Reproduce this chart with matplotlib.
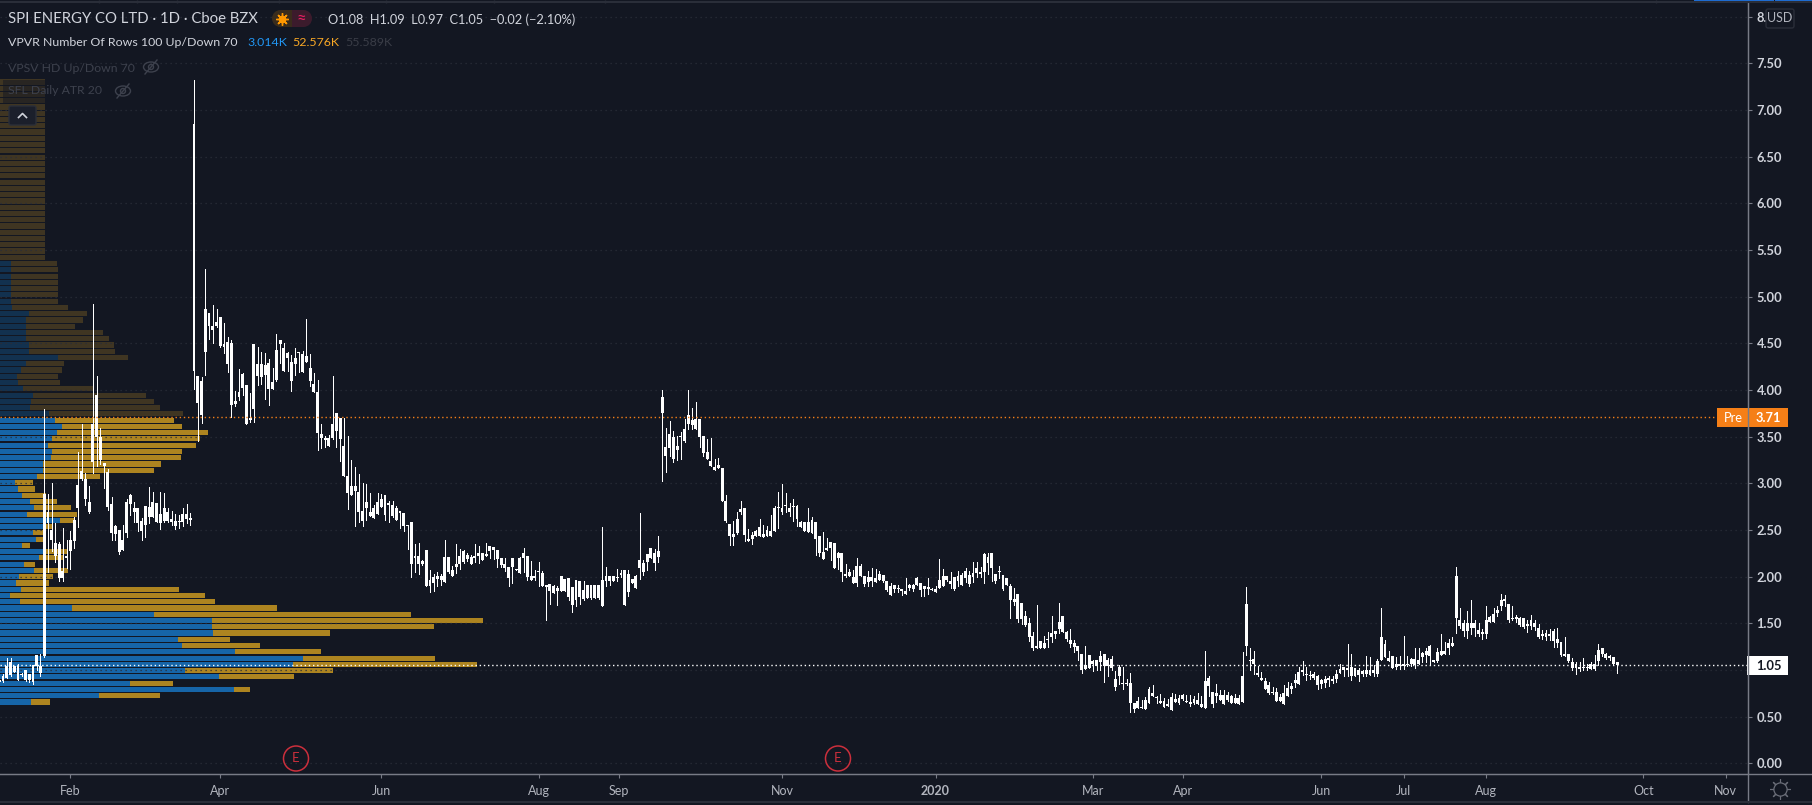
import numpy as np
import matplotlib
matplotlib.use('Agg')
import matplotlib.pyplot as plt
from matplotlib.patches import Rectangle, FancyBboxPatch, Circle, Ellipse

plt.rcParams['font.family'] = ['Lato', 'DejaVu Sans']

# candles, one row per 10 bars
body_tops = [
    .89,.93,1.04,1.09,1.04,1.04,.96,1.00,.96,1.05,
    1.16,1.04,2.88,2.69,2.50,2.36,2.35,2.06,2.22,2.39,
    2.61,2.98,3.13,3.05,2.80,3.63,3.95,3.50,3.22,3.12,
    2.78,2.54,2.50,2.39,2.80,2.87,2.74,2.73,2.60,2.76,
    2.75,2.80,2.79,2.67,2.73,2.69,2.62,2.60,2.60,2.67,
    2.67,2.63,6.85,4.15,4.10,4.87,4.82,4.69,4.73,4.78,
    4.49,4.51,4.50,3.88,3.98,4.17,4.05,3.70,4.49,4.28,
    4.28,4.27,4.29,4.08,4.43,4.53,4.45,4.40,4.30,4.34,
    4.41,4.38,4.36,4.24,4.06,3.98,3.53,3.48,3.49,3.64,
    3.75,3.70,3.40,3.08,2.97,2.97,2.91,2.70,2.80,2.69,
    2.74,2.80,2.83,2.87,2.79,2.77,2.73,2.70,2.68,2.55,
    2.59,2.22,2.22,2.17,2.28,1.96,2.00,2.01,2.01,2.21,
    2.21,2.07,2.14,2.22,2.27,2.23,2.21,2.22,2.25,2.25,
    2.24,2.33,2.32,2.29,2.20,2.13,2.10,2.20,2.08,2.20,
    2.25,2.22,2.01,2.01,2.06,2.04,1.91,1.92,1.90,1.88,
    2.01,1.97,1.99,1.89,1.96,1.95,1.86,1.91,1.91,1.91,
    1.91,1.96,2.01,2.01,2.01,2.00,2.04,2.07,2.03,1.97,
    2.01,2.18,2.15,2.24,2.31,2.25,2.27,3.92,3.39,3.53,
    3.50,3.40,3.51,3.58,3.73,3.68,3.69,3.69,3.51,3.34,
    3.24,3.17,3.20,3.16,2.81,2.56,2.46,2.62,2.72,2.74,
    2.40,2.45,2.49,2.53,2.46,2.50,2.49,2.74,2.75,2.74,
    2.77,2.74,2.76,2.76,2.58,2.58,2.59,2.61,2.58,2.44,
    2.26,2.31,2.37,2.36,2.25,2.25,2.03,2.05,2.00,2.11,
    2.11,2.01,2.00,2.00,1.99,2.03,2.02,1.95,1.90,1.91,
    1.88,1.87,1.85,1.91,1.91,1.99,1.93,1.90,1.89,1.87,
    1.87,1.96,2.01,2.01,1.95,2.00,2.01,2.02,2.06,2.02,
    2.04,2.09,2.05,2.24,2.21,2.25,2.03,2.06,2.02,1.98,
    1.90,1.76,1.81,1.72,1.58,1.50,1.36,1.26,1.31,1.29,
    1.33,1.40,1.42,1.51,1.58,1.41,1.32,1.29,1.26,1.17,
    1.05,1.16,1.10,1.11,1.15,1.17,1.11,1.12,.90,1.03,
    .86,.86,.86,.65,.67,.60,.68,.80,.75,.71,
    .67,.67,.64,.71,.69,.70,.73,.67,.66,.69,
    .68,.64,.88,.91,.76,.75,.73,.73,.73,.72,
    .70,.70,.94,1.71,1.11,1.12,.97,.91,.88,.84,
    .76,.76,.71,.75,.81,.83,.89,.98,1.00,.96,
    .95,.96,.94,.89,.90,.91,.90,.96,1.01,1.03,
    1.02,1.03,1.02,1.00,.99,1.00,1.00,1.00,1.10,1.35,
    1.28,1.13,1.15,1.06,1.06,1.06,1.06,1.12,1.12,1.11,
    1.18,1.20,1.26,1.11,1.19,1.20,1.20,1.29,1.29,2.01,
    1.54,1.50,1.50,1.50,1.50,1.43,1.41,1.54,1.57,1.60,
    1.64,1.75,1.76,1.71,1.56,1.57,1.56,1.56,1.49,1.53,
    1.50,1.45,1.39,1.40,1.39,1.42,1.33,1.30,1.17,1.17,
    1.09,1.06,1.03,1.03,1.03,1.06,1.06,1.21,1.23,1.17,
    1.15,1.14,1.08]
body_bottoms = [
    .87,.88,.91,.95,.98,.89,.95,.89,.89,.87,
    1.04,.97,1.15,2.57,2.39,2.22,1.98,1.99,2.20,2.27,
    2.38,2.73,3.05,2.83,2.69,3.23,3.50,3.25,3.18,2.75,
    2.47,2.46,2.26,2.29,2.47,2.78,2.69,2.57,2.49,2.55,
    2.64,2.64,2.59,2.57,2.60,2.60,2.59,2.54,2.59,2.58,
    2.62,2.61,4.20,3.86,3.73,4.41,4.68,4.64,4.69,4.47,
    4.46,4.28,3.84,3.85,3.92,4.02,3.63,3.68,3.80,4.15,
    4.14,4.16,4.01,4.01,4.11,4.49,4.20,4.34,4.10,4.28,
    4.40,4.19,4.30,4.10,3.98,3.54,3.48,3.46,3.40,3.49,
    3.56,3.47,3.08,2.90,2.87,2.92,2.69,2.60,2.73,2.65,
    2.63,2.67,2.75,2.66,2.77,2.65,2.61,2.68,2.54,2.54,
    2.13,2.20,2.14,2.14,1.90,1.90,1.93,1.97,1.96,1.94,
    2.05,2.01,2.10,2.14,2.16,2.19,2.13,2.20,2.22,2.18,
    2.22,2.27,2.28,2.19,2.12,2.09,1.98,2.10,2.07,2.04,
    2.20,2.00,1.96,1.98,2.05,1.90,1.89,1.85,1.82,1.85,
    1.85,1.85,1.78,1.70,1.75,1.78,1.76,1.77,1.77,1.77,
    1.77,1.69,1.95,1.95,1.95,1.98,2.02,1.70,1.83,1.93,
    1.88,2.09,2.05,2.16,2.20,2.15,2.21,3.75,3.29,3.38,
    3.26,3.36,3.50,3.45,3.63,3.62,3.58,3.50,3.32,3.26,
    3.18,3.14,3.16,2.81,2.60,2.44,2.42,2.47,2.69,2.45,
    2.38,2.40,2.44,2.43,2.42,2.43,2.43,2.49,2.73,2.69,
    2.76,2.69,2.75,2.62,2.53,2.49,2.48,2.47,2.40,2.25,
    2.19,2.28,2.31,2.09,2.20,2.05,2.01,2.01,1.93,1.93,
    2.01,1.92,1.94,1.95,1.94,1.96,1.95,1.86,1.80,1.87,
    1.87,1.85,1.81,1.88,1.87,1.91,1.86,1.87,1.87,1.86,
    1.83,1.88,1.90,1.96,1.92,1.87,1.95,1.91,1.99,1.92,
    2.00,2.04,2.03,2.05,2.15,2.09,1.95,2.05,1.87,1.91,
    1.75,1.73,1.55,1.55,1.48,1.35,1.23,1.23,1.24,1.24,
    1.32,1.35,1.38,1.44,1.41,1.33,1.28,1.25,1.20,1.00,
    1.01,1.02,1.06,1.04,1.08,1.04,1.04,1.02,.82,.93,
    .85,.85,.65,.58,.59,.59,.58,.65,.72,.70,
    .65,.60,.61,.57,.66,.65,.69,.66,.64,.65,
    .63,.60,.59,.83,.63,.72,.68,.64,.68,.65,
    .65,.63,.66,1.26,1.10,1.06,.95,.89,.80,.75,
    .75,.67,.67,.64,.72,.80,.86,.85,.98,.95,
    .93,.91,.84,.85,.86,.89,.88,.90,.97,1.00,
    1.00,.93,.93,.95,.96,.96,.95,.97,.96,1.11,
    1.14,1.10,1.02,1.03,1.04,1.04,1.05,1.06,1.05,1.06,
    1.14,1.16,1.15,1.09,1.10,1.16,1.17,1.23,1.26,1.56,
    1.47,1.42,1.42,1.45,1.45,1.39,1.38,1.38,1.51,1.51,
    1.61,1.68,1.74,1.53,1.55,1.55,1.48,1.46,1.47,1.47,
    1.46,1.35,1.36,1.35,1.36,1.31,1.29,1.16,1.15,1.10,
    1.02,1.02,1.01,1.02,1.02,1.01,1.01,1.10,1.17,1.13,
    1.13,1.06,1.05]
highs = [
    .90,.96,1.13,1.13,1.04,1.06,.97,1.00,.96,1.05,
    1.16,1.17,3.80,2.88,3.00,2.57,2.37,2.52,2.39,2.49,
    2.64,3.34,3.64,3.11,2.97,4.92,4.15,3.59,3.22,3.15,
    2.85,2.55,2.50,2.55,2.83,2.89,2.80,2.73,2.63,2.76,
    2.96,2.91,2.79,2.91,2.90,2.73,2.70,2.67,2.66,2.73,
    2.78,2.68,7.32,4.15,4.14,5.30,4.82,4.91,4.87,4.78,
    4.72,4.57,4.53,3.99,4.22,4.18,4.05,3.97,4.49,4.46,
    4.41,4.40,4.33,4.24,4.60,4.54,4.50,4.41,4.37,4.45,
    4.41,4.42,4.76,4.38,4.18,4.11,3.64,3.51,3.52,4.15,
    3.75,3.70,3.70,3.51,3.25,3.17,3.10,3.00,2.99,2.90,
    2.77,2.90,2.89,2.87,2.81,2.81,2.76,2.70,2.68,2.55,
    2.59,2.35,2.36,2.18,2.28,2.07,2.03,2.05,2.03,2.39,
    2.21,2.11,2.35,2.30,2.29,2.25,2.23,2.35,2.33,2.25,
    2.36,2.33,2.32,2.29,2.20,2.20,2.10,2.20,2.08,2.21,
    2.31,2.22,2.17,2.07,2.16,2.06,1.91,1.92,1.91,1.90,
    2.01,1.97,1.99,1.89,1.96,1.95,1.95,1.91,1.91,1.91,
    1.91,2.53,2.10,2.01,2.01,2.08,2.07,2.07,2.07,1.97,
    2.02,2.68,2.18,2.24,2.31,2.30,2.44,4.00,3.59,3.67,
    3.56,3.51,3.55,3.69,4.00,3.81,3.87,3.69,3.51,3.47,
    3.48,3.26,3.27,3.16,2.87,2.56,2.60,2.69,2.81,2.74,
    2.51,2.48,2.50,2.62,2.55,2.54,2.66,2.76,2.91,2.99,
    2.90,2.79,2.83,2.77,2.60,2.59,2.73,2.64,2.58,2.44,
    2.48,2.41,2.37,2.36,2.26,2.25,2.13,2.08,2.07,2.20,
    2.13,2.01,2.06,2.09,2.08,2.06,2.02,1.95,1.93,1.91,
    1.91,1.87,1.99,1.92,1.92,2.00,1.93,1.90,1.98,1.88,
    1.90,2.19,2.08,2.01,2.05,2.00,2.06,2.04,2.09,2.06,
    2.16,2.16,2.10,2.25,2.25,2.25,2.03,2.11,2.02,1.98,
    1.92,1.88,1.81,1.72,1.63,1.56,1.41,1.70,1.31,1.36,
    1.41,1.58,1.42,1.72,1.58,1.42,1.44,1.32,1.26,1.17,
    1.26,1.16,1.11,1.11,1.20,1.17,1.13,1.15,.99,1.05,
    1.03,.90,.97,.65,.71,.68,.71,.82,.84,.72,
    .74,.70,.69,.75,.74,.73,.74,.73,.73,.72,
    .75,.72,1.20,.94,.76,.85,.79,.79,.76,.73,
    .74,.73,1.19,1.89,1.23,1.20,1.04,.98,.91,.87,
    .82,.81,.74,.84,.87,.86,.96,1.03,1.10,1.03,
    .99,.98,.95,.90,.93,.93,.93,1.00,1.06,1.03,
    1.28,1.17,1.02,1.02,1.00,1.15,1.14,1.05,1.12,1.66,
    1.32,1.20,1.15,1.14,1.15,1.36,1.15,1.13,1.24,1.24,
    1.19,1.24,1.27,1.11,1.24,1.39,1.30,1.33,1.35,2.10,
    1.66,1.54,1.63,1.75,1.54,1.50,1.44,1.68,1.58,1.66,
    1.68,1.81,1.80,1.71,1.69,1.59,1.57,1.56,1.53,1.59,
    1.54,1.49,1.43,1.43,1.44,1.44,1.45,1.30,1.35,1.17,
    1.13,1.09,1.08,1.13,1.06,1.08,1.16,1.28,1.24,1.18,
    1.16,1.14,1.09]
lows = [
    .86,.87,.91,.94,.98,.89,.94,.88,.87,.85,
    1.00,.93,1.14,2.05,2.27,2.16,1.95,1.95,2.09,2.08,
    2.31,2.53,3.03,2.77,2.68,3.11,3.18,3.21,2.95,2.71,
    2.39,2.39,2.24,2.29,2.42,2.66,2.59,2.49,2.39,2.42,
    2.57,2.64,2.59,2.51,2.58,2.58,2.55,2.51,2.52,2.54,
    2.57,2.55,4.01,3.45,3.65,4.16,4.55,4.50,4.67,4.46,
    4.40,4.19,3.71,3.83,3.89,3.95,3.63,3.66,3.66,4.05,
    4.06,3.90,3.84,4.01,4.10,4.29,4.20,4.20,3.99,4.16,
    4.19,4.19,4.30,4.04,3.98,3.36,3.38,3.39,3.40,3.47,
    3.39,3.24,3.08,2.72,2.87,2.54,2.58,2.54,2.61,2.65,
    2.63,2.67,2.75,2.61,2.59,2.64,2.61,2.52,2.49,2.30,
    2.00,2.05,2.03,2.12,1.90,1.83,1.85,1.90,1.91,1.94,
    2.04,2.01,2.04,2.08,2.15,2.17,2.13,2.16,2.15,2.18,
    2.22,2.20,2.19,2.10,2.10,2.06,1.90,1.93,2.07,2.04,
    2.05,1.96,1.96,1.96,1.90,1.90,1.53,1.71,1.82,1.70,
    1.85,1.85,1.75,1.62,1.69,1.71,1.75,1.77,1.76,1.77,
    1.76,1.69,1.90,1.91,1.95,1.95,2.00,1.70,1.79,1.93,
    1.88,1.97,2.02,2.07,2.20,2.07,2.16,3.02,3.12,3.29,
    3.23,3.25,3.26,3.44,3.58,3.58,3.58,3.39,3.29,3.26,
    3.18,3.14,3.16,2.81,2.58,2.34,2.34,2.46,2.67,2.38,
    2.38,2.35,2.44,2.43,2.42,2.43,2.43,2.49,2.52,2.67,
    2.69,2.65,2.60,2.54,2.53,2.49,2.48,2.47,2.23,2.22,
    2.19,2.28,2.18,2.09,2.08,1.95,2.00,2.01,1.93,1.90,
    2.01,1.90,1.90,1.90,1.94,1.96,1.94,1.85,1.80,1.83,
    1.83,1.80,1.81,1.86,1.85,1.91,1.79,1.79,1.81,1.86,
    1.83,1.88,1.90,1.95,1.88,1.86,1.90,1.91,1.94,1.90,
    1.94,2.00,2.00,1.93,2.03,1.95,1.93,1.99,1.86,1.91,
    1.56,1.70,1.51,1.49,1.47,1.31,1.21,1.23,1.23,1.23,
    1.25,1.30,1.34,1.40,1.41,1.31,1.25,1.19,1.11,.97,
    1.01,1.02,.99,1.00,1.00,.87,.93,1.00,.78,.85,
    .80,.84,.55,.55,.59,.59,.58,.65,.72,.65,
    .65,.60,.61,.57,.66,.63,.68,.66,.61,.64,
    .63,.60,.59,.72,.60,.66,.68,.64,.67,.65,
    .65,.63,.66,1.16,1.00,.96,.93,.89,.80,.74,
    .74,.67,.67,.64,.72,.75,.82,.85,.95,.89,
    .90,.90,.80,.81,.82,.83,.86,.87,.97,.93,
    .93,.89,.93,.88,.94,.93,.95,.94,.94,1.11,
    1.14,1.10,1.02,1.01,1.01,1.01,1.04,1.04,1.02,1.06,
    1.09,1.09,1.06,1.08,1.09,1.16,1.17,1.17,1.26,1.40,
    1.45,1.36,1.34,1.38,1.36,1.36,1.33,1.34,1.51,1.51,
    1.58,1.64,1.69,1.51,1.53,1.51,1.47,1.45,1.41,1.44,
    1.43,1.34,1.33,1.32,1.32,1.25,1.25,1.15,1.15,1.09,
    1.00,.96,.99,1.00,1.00,1.01,1.00,1.05,1.15,1.12,
    1.11,1.06,.97]

# volume profile, bottom row first (relative volume)
up_vol = [
    31,99,234,130,219,185,293,303,235,182,
    178,213,212,212,154,72,20,10,21,16,
    19,34,24,39,43,22,36,33,43,60,
    27,34,30,22,18,15,37,43,43,51,
    52,48,52,57,62,55,49,30,31,33,
    23,18,17,21,26,58,29,29,26,26,
    26,26,29,12,11,11,11,11,11,11,
    11,0,0,0,0,0,0,0,0,0,
    0,0,0,0,0,0,0,0,0,0,
    0,0,0,0,0,0,0,0,0,0]
down_vol = [
    19,61,16,43,75,148,184,132,86,78,
    52,117,222,271,257,205,195,195,158,33,
    34,34,11,24,24,8,7,10,9,14,
    50,37,27,24,17,18,63,111,118,130,
    130,148,148,151,120,119,134,130,123,113,
    71,42,41,41,38,70,86,85,83,77,
    49,57,58,56,47,47,47,47,47,47,
    46,45,45,45,45,45,45,45,45,45,
    45,45,45,45,45,45,45,45,45,45,
    45,45,45,45,45,45,45,45,45,45]
profile_low = 0.657
profile_step = 0.0671

price_ticks = [0, .5, 1, 1.5, 2, 2.5, 3, 3.5, 4, 4.5, 5, 5.5, 6, 6.5, 7, 7.5, 8]
# 1.00 hides under the last price tag, 8.00 is cut off by the USD button
price_labels = ['0.00', '0.50', '', '1.50', '2.00', '2.50', '3.00', '3.50', '4.00', '4.50',
                '5.00', '5.50', '6.00', '6.50', '7.00', '7.50', '8.']
month_labels = ['Feb', 'Apr', 'Jun', 'Aug', 'Sep', 'Nov', '2020', 'Mar', 'Apr', 'Jun', 'Jul', 'Aug', 'Oct', 'Nov']
month_bars = [19, 59, 102, 144, 165.5, 209, 250, 292, 316, 353, 375, 397, 439, 461]
last_close = 1.05
pre_price = 3.71

BG = '#131722'
BLUE, GOLD = '#1665a8', '#ad8420'
DIM_BLUE, DIM_GOLD = '#12314f', '#3f3522'
GREY = '#b2b5be'

W, H = 1812, 805
fig = plt.figure(figsize=(W / 100, H / 100), dpi=100, facecolor=BG)
ax = fig.add_axes([0, (H - 774) / H, 1747.5 / W, (774 - 3) / H])
ax.set_xlim(0.19, 466.8)
ax.set_ylim(-0.115, 8.146)

# profile goes in its own x scale under the candles
ax2 = ax.twiny()
ax2.set_xlim(0, 1747.5)
ax2.axis('off')
ax.set_zorder(2)
ax2.set_zorder(1)
ax.patch.set_visible(False)

row_prices = profile_low + profile_step * np.arange(len(up_vol))
up_colors = [DIM_BLUE if p >= pre_price else BLUE for p in row_prices]
down_colors = [DIM_GOLD if p >= pre_price else GOLD for p in row_prices]
ax2.barh(row_prices, up_vol, height=profile_step * .82, color=up_colors, linewidth=0)
ax2.barh(row_prices, down_vol, left=up_vol, height=profile_step * .82, color=down_colors, linewidth=0)

bars = np.arange(len(highs))
ax.grid(axis='y', color='#2a2e39', linestyle=(0, (1, 3)), linewidth=.9)
ax.set_axisbelow(True)
ax.vlines(bars, lows, highs, color='white', linewidth=.72, zorder=3, antialiased=False)
ax.bar(bars, np.array(body_tops) - np.array(body_bottoms), bottom=body_bottoms, width=.78,
       color='white', linewidth=0, antialiased=False, zorder=3)

ax.axhline(pre_price, color='#f57f17', linestyle=(0, (1, 2)), linewidth=1, zorder=4)
ax.axhline(last_close, color='white', linestyle=(0, (1, 2)), linewidth=1, zorder=4)

ax.yaxis.tick_right()
ax.set_yticks(price_ticks)
ax.set_yticklabels(price_labels, color='#d1d4dc', fontsize=9.3, fontweight='bold')
ax.set_xticks(month_bars)
ax.set_xticklabels(month_labels, color=GREY, fontsize=9)
ax.get_xticklabels()[6].set_fontweight('bold')
ax.tick_params(axis='y', length=3, width=.8, color='#787b86', pad=3.5)
ax.tick_params(axis='x', length=3, width=.8, color='#787b86', pad=5)
for s in ['top', 'left']:
    ax.spines[s].set_visible(False)
for s in ['bottom', 'right']:
    ax.spines[s].set_color('#787b86')

# everything else sits on a pixel overlay
ov = fig.add_axes([0, 0, 1, 1], zorder=10)
ov.set_xlim(0, W)
ov.set_ylim(H, 0)
ov.axis('off')


def label(x, y, s, color='#d1d4dc', size=11, **kw):
    ov.text(x, y, s, color=color, fontsize=size, va='center', **kw)


def eye(x, y):
    ov.add_patch(Ellipse((x, y), 15, 10, fill=False, edgecolor='#3d414d', linewidth=1))
    ov.add_patch(Circle((x, y), 2.5, fill=False, edgecolor='#3d414d', linewidth=1))
    ov.plot([x - 6, x + 6], [y + 7, y - 7], color='#3d414d', linewidth=1)


ov.plot([0, W], [774, 774], color='#787b86', linewidth=1)
ov.plot([1747.5, 1747.5], [3, 802], color='#787b86', linewidth=1)
ov.plot([0, W], [802, 802], color='#2a2e39', linewidth=1.5)
ov.plot([0, W], [2, 2], color='#2a2e39', linewidth=1.5)
ov.vlines([99, 137, 177, 279, 386, 494, 605, 1656], 0, 3, color='#2a2e39', linewidth=1)
ov.add_patch(Rectangle((1694, 0), 80, 2.5, color='#1e6fd9', linewidth=0))
ov.add_patch(Rectangle((1775, 0), 37, 2.5, color='#1e6fd9', linewidth=0))

# top left legend
label(8, 19, 'SPI ENERGY CO LTD · 1D · Cboe BZX', size=10.7)
ov.add_patch(Circle((280.5, 18.5), 8.5, color='#3a2c1c', linewidth=0))
ov.add_patch(Circle((303.5, 18.5), 8.5, color='#3c1b2c', linewidth=0))
ov.add_patch(Rectangle((280.5, 10), 11.5, 17, color='#3a2c1c', linewidth=0))
ov.add_patch(Rectangle((292, 10), 11.5, 17, color='#3c1b2c', linewidth=0))
ov.plot([282], [19], marker=(8, 2, 0), markersize=9, color='#ff9800', markeredgewidth=1)
ov.plot([282], [19], marker='o', markersize=4.5, color='#ff9800')
ov.text(301, 18.5, '≈', color='#e91e63', fontsize=12, ha='center', va='center')
label(328, 20, 'O1.08  H1.09  L0.97  C1.05  −0.02 (−2.10%)', size=9.2)
label(8, 43, 'VPVR Number Of Rows 100 Up/Down 70', size=8.9)
label(247, 43, '3.014K', color='#2196f3', size=8.9)
label(292, 43, '52.576K', color='#f9a825', size=8.9)
label(345, 43, '55.589K', color='#3a3d47', size=8.9)
label(8, 68, 'VPSV HD Up/Down 70', color='#3d414d', size=8.8)
eye(151, 67)
ov.add_patch(Rectangle((3, 80), 128, 23, color=BG, alpha=.5, linewidth=0))
label(8, 91, 'SFL Daily ATR 20', color='#3d414d', size=8.8)
eye(123, 91)
ov.add_patch(FancyBboxPatch((11, 108), 23, 15, boxstyle='round,pad=2', facecolor='#1b1f2b', edgecolor='#2a2e39', linewidth=1))
ov.plot([18.5, 22.5, 26.5], [117.5, 113.5, 117.5], color='#d1d4dc', linewidth=1.2)

# earnings markers
for ex in [296, 838]:
    ov.add_patch(Circle((ex, 758.5), 12.5, fill=False, edgecolor='#cc2f3c', linewidth=1.1))
    ov.text(ex, 758, 'E', color='#cc2f3c', fontsize=9.5, ha='center', va='center')

# price tags
ov.add_patch(Rectangle((1717, 408), 71, 19, color='#f57f17', linewidth=0))
ov.text(1724, 417.5, 'Pre', color='white', fontsize=9.3, va='center')
ov.text(1756, 417.5, '3.71', color='white', fontsize=9.3, fontweight='bold', va='center')
ov.add_patch(Rectangle((1747, 656), 41, 19, color='white', linewidth=0))
ov.text(1756, 665.5, '1.05', color='#131722', fontsize=9.3, fontweight='bold', va='center')

# USD button, covers part of the 8.00 label
ov.add_patch(FancyBboxPatch((1768, 11), 24, 15, boxstyle='round,pad=2', facecolor=BG, edgecolor='#2a2e39', linewidth=1))
ov.text(1780, 18.5, 'USD', color=GREY, fontsize=9, ha='center', va='center')

# settings gear
ov.plot([1780], [789], marker=(8, 2, 0), markersize=15, color='#6a6d78', markeredgewidth=.8)
ov.plot([1780], [789], marker='o', markersize=9.5, markerfacecolor=BG, markeredgecolor='#6a6d78', markeredgewidth=.9)

fig.savefig('out.png', dpi=100, facecolor=BG)
